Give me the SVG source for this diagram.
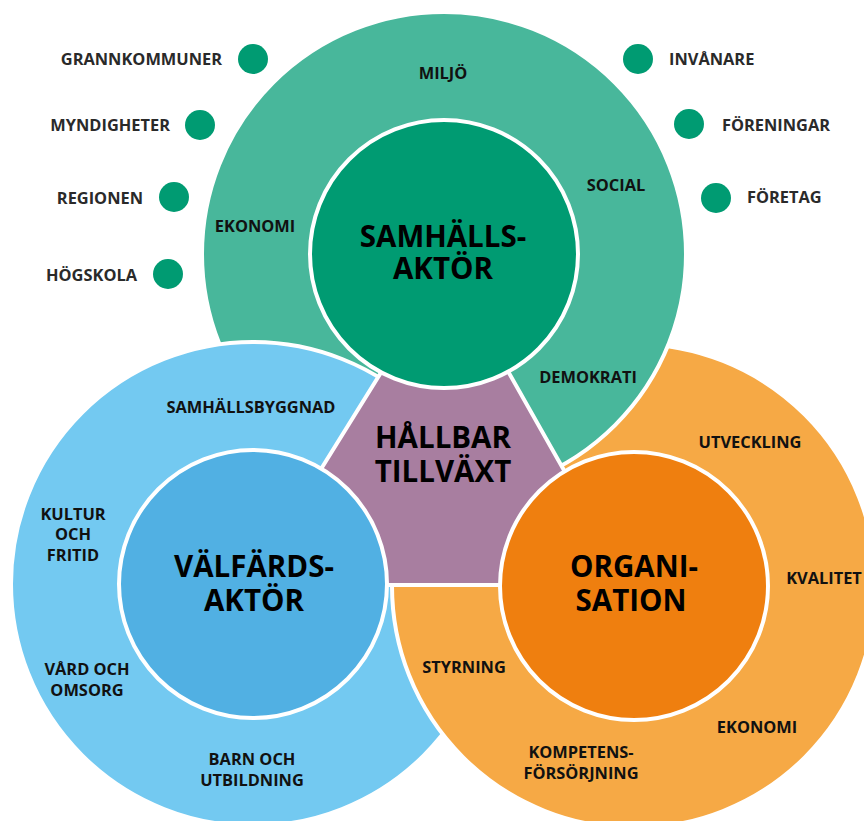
<svg xmlns="http://www.w3.org/2000/svg" width="864" height="821" viewBox="0 0 864 821">
<defs>
<style>
.ring{stroke:#fff;stroke-width:4}
.g-out{fill:#48b79b}.g-in{fill:#009b72}
.b-out{fill:#73c9f1}.b-in{fill:#51b0e3}
.o-out{fill:#f6a945}.o-in{fill:#ef7f0f}
.pent{fill:#a87ea0;stroke:#fff;stroke-width:4;stroke-linejoin:miter}
.dot{fill:#009b72}
text{font-family:"Open Sans","Liberation Sans",Arial,sans-serif;font-weight:700}
.lbl{font-size:16.4px;fill:#111;text-anchor:middle}
.ext{font-size:16.4px;fill:#2a2a2a}
.ttl{font-size:29.5px;fill:#000;text-anchor:middle}
</style>
<clipPath id="gOverO">
<polygon points="505,365 575,490 780,490 780,290 505,290"/>
</clipPath>
</defs>
<g id="rings">
<circle id="green-outer" class="ring g-out" cx="444" cy="254" r="242"/>
<circle id="blue-outer" class="ring b-out" cx="253" cy="584" r="242"/>
<circle id="orange-outer" class="ring o-out" cx="634" cy="586" r="242"/>
<circle class="ring g-out" cx="444" cy="254" r="242" clip-path="url(#gOverO)"/>
</g>
<g id="hallbar">
<polygon class="pent" points="395,350 496,350 578,495 530,585 360,585 308,490"/>
<text class="ttl" x="443" y="448">HÅLLBAR</text>
<text class="ttl" x="443" y="482">TILLVÄXT</text>
</g>
<g id="samhallsaktor">
<circle class="ring g-in" cx="444" cy="254" r="134"/>
<text class="ttl" x="443" y="247">SAMHÄLLS-</text>
<text class="ttl" x="443" y="279">AKTÖR</text>
</g>
<g id="valfardsaktor">
<circle class="ring b-in" cx="253" cy="584" r="134"/>
<text class="ttl" x="254" y="577">VÄLFÄRDS-</text>
<text class="ttl" x="254" y="611">AKTÖR</text>
</g>
<g id="organisation">
<circle class="ring o-in" cx="634" cy="586" r="134"/>
<text class="ttl" x="634" y="577">ORGANI-</text>
<text class="ttl" x="631" y="611">SATION</text>
</g>
<g id="ring-labels">
<text class="lbl" x="443" y="79">MILJÖ</text>
<text class="lbl" x="255" y="232">EKONOMI</text>
<text class="lbl" x="616" y="191">SOCIAL</text>
<text class="lbl" x="588" y="383">DEMOKRATI</text>
<text class="lbl" x="251" y="413">SAMHÄLLSBYGGNAD</text>
<text class="lbl" x="73" y="520">KULTUR</text>
<text class="lbl" x="73" y="540">OCH</text>
<text class="lbl" x="73" y="561">FRITID</text>
<text class="lbl" x="87" y="675">VÅRD OCH</text>
<text class="lbl" x="87" y="696">OMSORG</text>
<text class="lbl" x="252" y="765">BARN OCH</text>
<text class="lbl" x="252" y="786">UTBILDNING</text>
<text class="lbl" x="750" y="448">UTVECKLING</text>
<text class="lbl" x="824" y="584">KVALITET</text>
<text class="lbl" x="757" y="733">EKONOMI</text>
<text class="lbl" x="464" y="673">STYRNING</text>
<text class="lbl" x="581" y="758">KOMPETENS-</text>
<text class="lbl" x="581" y="779">FÖRSÖRJNING</text>
</g>
<g id="stakeholders">
<g id="grannkommuner"><circle class="dot" cx="253" cy="59" r="15"/><text class="ext" x="222" y="65" text-anchor="end">GRANNKOMMUNER</text></g>
<g id="myndigheter"><circle class="dot" cx="200" cy="125" r="15"/><text class="ext" x="170" y="131" text-anchor="end">MYNDIGHETER</text></g>
<g id="regionen"><circle class="dot" cx="174" cy="197" r="15"/><text class="ext" x="143" y="204" text-anchor="end">REGIONEN</text></g>
<g id="hogskola"><circle class="dot" cx="168" cy="274" r="15"/><text class="ext" x="137" y="281" text-anchor="end">HÖGSKOLA</text></g>
<g id="invanare"><circle class="dot" cx="638" cy="59" r="15"/><text class="ext" x="669" y="65">INVÅNARE</text></g>
<g id="foreningar"><circle class="dot" cx="689" cy="124" r="15"/><text class="ext" x="722" y="131">FÖRENINGAR</text></g>
<g id="foretag"><circle class="dot" cx="716" cy="198" r="15"/><text class="ext" x="747" y="203">FÖRETAG</text></g>
</g>
</svg>
